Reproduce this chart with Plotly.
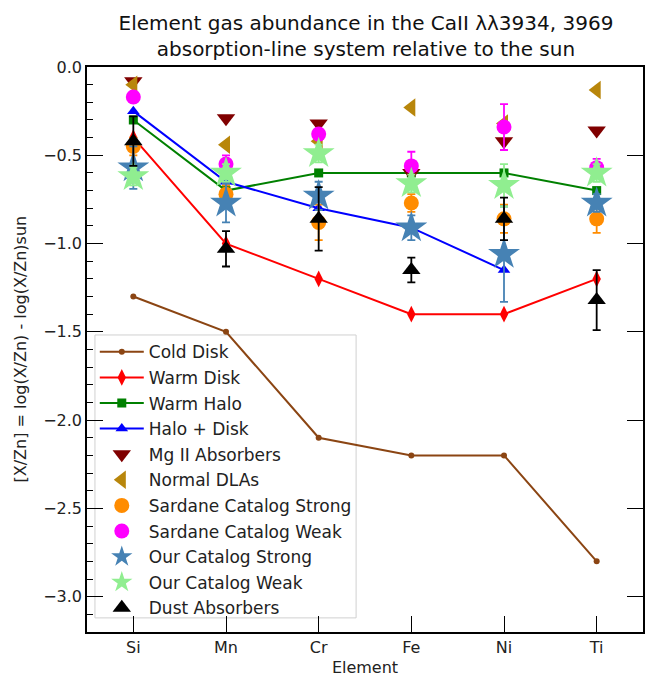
import plotly.graph_objects as go

elements = ["Si", "Mn", "Cr", "Fe", "Ni", "Ti"]

cold_disk = [-1.3, -1.5, -2.1, -2.2, -2.2, -2.8]
warm_disk = [-0.4, -1.0, -1.2, -1.4, -1.4, -1.2]
warm_halo = [-0.3, -0.7, -0.6, -0.6, -0.6, -0.7]
halo_disk = [-0.25, -0.65, -0.8, -0.91, -1.15, None]

mg2 = [-0.08, -0.29, -0.32, -0.60, -0.42, -0.36]
dla = [-0.10, -0.44, -0.42, -0.23, -0.32, -0.13]

sard_strong = [-0.45, -0.72, -0.88, -0.77, -0.86, -0.86]
sard_strong_err = [0.05, 0.05, 0.10, 0.05, 0.08, 0.08]
sard_weak = [-0.17, -0.55, -0.38, -0.56, -0.34, -0.57]
sard_weak_err = [0.03, 0.05, 0.03, 0.08, 0.13, 0.05]

our_strong = [-0.57, -0.77, -0.73, -0.91, -1.06, -0.77]
our_strong_err = [0.12, 0.11, 0.08, 0.07, 0.27, 0.05]
our_weak = [-0.62, -0.60, -0.49, -0.66, -0.67, -0.60]
our_weak_err = [0.05, 0.05, 0.05, 0.05, 0.12, 0.05]

dust = [-0.42, -1.03, -0.86, -1.15, -0.86, -1.32]
dust_err = [0.14, 0.10, 0.18, 0.07, 0.12, 0.17]

fig = go.Figure()

def line_trace(name, y, color, symbol, msize, grp):
    fig.add_trace(go.Scatter(
        x=elements, y=y, name=name, mode="lines+markers",
        line=dict(color=color, width=2),
        marker=dict(color=color, symbol=symbol, size=msize),
        legendgroup=grp, connectgaps=False))

def point_trace(name, y, color, symbol, msize, grp, err=None):
    kw = {}
    if err is not None:
        kw["error_y"] = dict(type="data", array=err, color=color,
                             thickness=1.8, width=4, visible=True)
    fig.add_trace(go.Scatter(
        x=elements, y=y, name=name, mode="markers",
        marker=dict(color=color, symbol=symbol, size=msize,
                    line=dict(width=0)),
        legendgroup=grp, **kw))

line_trace("Cold Disk", cold_disk, "#8B4513", "circle", 6, "g1")
line_trace("Warm Disk", warm_disk, "red", "diamond-tall", 12, "g2")
line_trace("Warm Halo", warm_halo, "green", "square", 9, "g3")
line_trace("Halo + Disk", halo_disk, "blue", "triangle-up", 11, "g4")
point_trace("Mg II Absorbers", mg2, "#800000", "triangle-down", 16, "g5")
point_trace("Normal DLAs", dla, "#B8860B", "triangle-left", 16, "g6")
point_trace("Sardane Catalog Strong", sard_strong, "#FF8C00", "circle", 15, "g7", sard_strong_err)
point_trace("Sardane Catalog Weak", sard_weak, "#FF00FF", "circle", 15, "g8", sard_weak_err)
point_trace("Our Catalog Strong", our_strong, "steelblue", "star", 24, "g9", our_strong_err)
point_trace("Our Catalog Weak", our_weak, "lightgreen", "star", 24, "g10", our_weak_err)
point_trace("Dust Absorbers", dust, "black", "triangle-up", 16, "g11", dust_err)

font = "DejaVu Sans"
fig.update_layout(
    width=646, height=677,
    margin=dict(l=87, r=1, t=67, b=45),
    paper_bgcolor="white", plot_bgcolor="white",
    font=dict(family=font, size=16, color="#222222"),
    title=dict(text="Element gas abundance in the CaII λλ3934, 3969<br>absorption-line system relative to the sun",
               x=0.5665, xanchor="center", yref="paper", y=1, yanchor="bottom",
               pad=dict(b=37),
               font=dict(size=20, color="#111111")),
    showlegend=True,
    legend=dict(x=0.014, y=0.527, xanchor="left", yanchor="top",
                bgcolor="rgba(255,255,255,0)", borderwidth=0,
                font=dict(size=17, color="#222222"),
                tracegroupgap=0.5, traceorder="grouped", itemwidth=44),
    shapes=[dict(type="rect", xref="paper", yref="paper",
                 x0=0.0143, x1=0.484, y0=0.025, y1=0.5257,
                 fillcolor="rgba(255,255,255,0.8)",
                 line=dict(color="#d0d0d0", width=1), layer="below")],
    xaxis=dict(
        type="category", range=[-0.5, 5.5],
        showline=True, linecolor="black", linewidth=1.5, mirror=True,
        ticks="inside", ticklen=16, tickcolor="black", tickwidth=1.3,
        showgrid=False, zeroline=False,
        title=dict(text="Element", font=dict(size=16), standoff=6),
        tickfont=dict(size=16)),
    yaxis=dict(
        range=[-3.2, 0.0], dtick=0.5, tickformat=".1f",
        showline=True, linecolor="black", linewidth=1.5, mirror=True,
        ticks="inside", ticklen=16, tickcolor="black", tickwidth=1.3,
        minor=dict(dtick=0.1, ticks="inside", ticklen=6, tickcolor="black", tickwidth=1),
        showgrid=False, zeroline=False,
        tickfont=dict(size=16)),
    yaxis2=dict(
        overlaying="y", side="right", matches="y", range=[-3.2, 0.0], dtick=0.5,
        ticks="inside", ticklen=16, tickcolor="black", tickwidth=1.3,
        showticklabels=False, showgrid=False, zeroline=False, showline=False),
    annotations=[dict(
        text="[X/Zn] = log(X/Zn) - log(X/Zn)sun", textangle=-90,
        xref="paper", yref="paper", x=0, y=0.5, xanchor="center", yanchor="middle",
        xshift=-67, showarrow=False, font=dict(size=16, color="#222222"))],
)

# invisible trace to activate right-side tick axis
fig.add_trace(go.Scatter(x=[elements[0]], y=[None], yaxis="y2", showlegend=False,
                         hoverinfo="skip", mode="markers"))

fig.write_html("out.html")
